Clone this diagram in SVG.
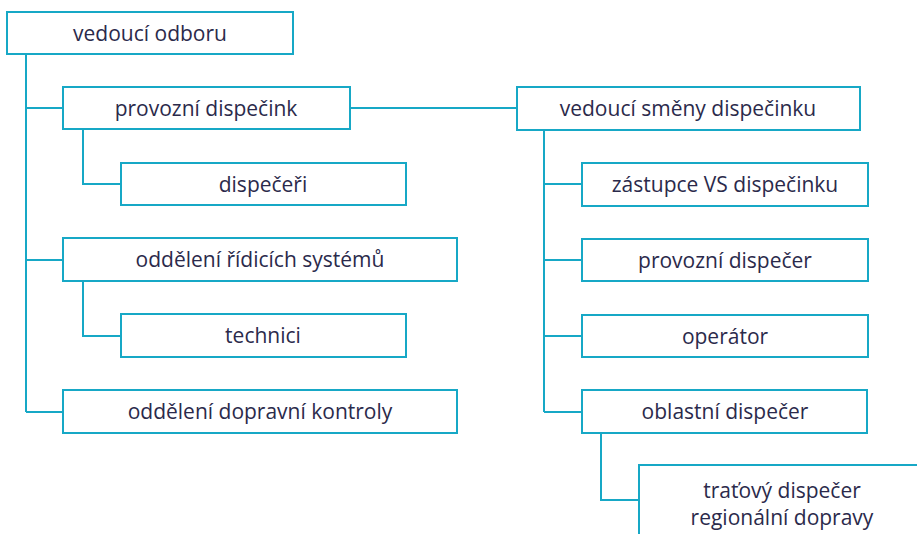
<svg xmlns="http://www.w3.org/2000/svg" width="917" height="534" viewBox="0 0 917 534">
<style>
.b{fill:#fff;stroke:#17a8c6;stroke-width:2}
.c{fill:none;stroke:#17a8c6;stroke-width:2}
text{font-family:"Open Sans","Noto Sans",sans-serif;font-size:21px;fill:#2b2a4b;text-anchor:middle}
</style>
<rect width="917" height="534" fill="#fff"/>
<g id="connectors">
<path class="c" d="M26 54V412M26 108H63M26 260H63M26 412H63"/>
<path class="c" d="M83 129V184H121M83 281V336H121"/>
<path class="c" d="M350 108H517"/>
<path class="c" d="M544 130V412M544 184H582M544 260H582M544 336H582M544 412H582"/>
<path class="c" d="M601 433V500H639"/>
</g>
<g id="n1"><rect class="b" x="7" y="12" width="286" height="42"/><text x="150" y="41">vedoucí odboru</text></g>
<g id="n2"><rect class="b" x="63" y="87" width="287" height="42"/><text x="206" y="116">provozní dispečink</text></g>
<g id="n3"><rect class="b" x="121" y="163" width="285" height="42"/><text x="263" y="192">dispečeři</text></g>
<g id="n4"><rect class="b" x="63" y="238" width="394" height="43"/><text x="260" y="267">oddělení řídicích systémů</text></g>
<g id="n5"><rect class="b" x="121" y="314" width="285" height="43"/><text x="263" y="343">technici</text></g>
<g id="n6"><rect class="b" x="63" y="390" width="394" height="43"/><text x="260" y="419">oddělení dopravní kontroly</text></g>
<g id="n7"><rect class="b" x="517" y="87" width="343" height="43"/><text x="688" y="116">vedoucí směny dispečinku</text></g>
<g id="n8"><rect class="b" x="582" y="163" width="286" height="43"/><text x="725" y="192">zástupce VS dispečinku</text></g>
<g id="n9"><rect class="b" x="582" y="239" width="286" height="42"/><text x="725" y="268">provozní dispečer</text></g>
<g id="n10"><rect class="b" x="582" y="315" width="286" height="42"/><text x="725" y="344">operátor</text></g>
<g id="n11"><rect class="b" x="582" y="390" width="285" height="43"/><text x="725" y="419">oblastní dispečer</text></g>
<g id="n12"><rect class="b" x="639" y="465" width="300" height="100"/><text x="782" y="498">traťový dispečer</text><text x="782" y="525">regionální dopravy</text></g>
</svg>
